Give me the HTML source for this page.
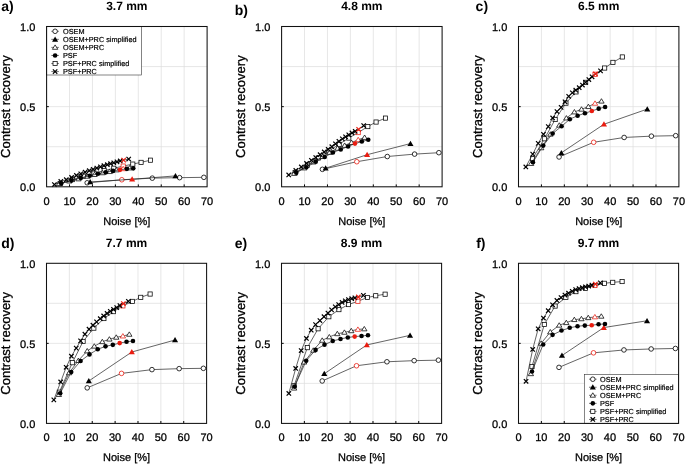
<!DOCTYPE html>
<html><head><meta charset="utf-8"><style>
html,body{margin:0;padding:0;background:#fff;}
svg{display:block;font-family:"Liberation Sans",sans-serif;will-change:transform;text-rendering:geometricPrecision;}
.r{fill:#000;stroke:#000;stroke-width:0.28px;stroke-linejoin:round;}
.l{stroke-width:0.2px;}
</style></head><body>
<svg width="685" height="465" viewBox="0 0 685 465">
<rect width="685" height="465" fill="#fff"/>
<path d="M69.53,26.50V186.80M92.46,26.50V186.80M115.39,26.50V186.80M138.31,26.50V186.80M161.24,26.50V186.80M184.17,26.50V186.80M46.60,146.73H207.10M46.60,106.65H207.10M46.60,66.58H207.10" stroke="#dcdcdc" stroke-width="0.7" fill="none"/>
<path d="M69.53,186.80V184.40M92.46,186.80V184.40M115.39,186.80V184.40M138.31,186.80V184.40M161.24,186.80V184.40M184.17,186.80V184.40M46.60,106.65H48.80" stroke="#000" stroke-width="1.0" fill="none"/>
<path d="M87.18,182.79L121.81,179.75L152.30,178.14L179.59,177.66L203.89,177.34" stroke="#222" stroke-width="0.7" fill="none"/>
<circle cx="87.18" cy="182.79" r="2.3" fill="#fff" stroke="#000" stroke-width="0.8"/>
<circle cx="121.81" cy="179.75" r="2.3" fill="#fff" stroke="#ea1c10" stroke-width="0.8"/>
<circle cx="152.30" cy="178.14" r="2.3" fill="#fff" stroke="#000" stroke-width="0.8"/>
<circle cx="179.59" cy="177.66" r="2.3" fill="#fff" stroke="#000" stroke-width="0.8"/>
<circle cx="203.89" cy="177.34" r="2.3" fill="#fff" stroke="#000" stroke-width="0.8"/>
<path d="M90.16,181.99L132.12,179.27L175.46,175.90" stroke="#222" stroke-width="0.7" fill="none"/>
<polygon points="90.16,179.09 93.21,184.34 87.11,184.34" fill="#000"/>
<polygon points="132.12,176.37 135.17,181.62 129.07,181.62" fill="#ea1c10"/>
<polygon points="175.46,173.00 178.51,178.25 172.41,178.25" fill="#000"/>
<path d="M60.13,183.59L72.51,179.59L83.29,176.22L94.06,173.17L104.15,170.61L113.78,168.27L123.18,166.07L132.81,164.10L141.07,162.37L150.47,160.18" stroke="#222" stroke-width="0.7" fill="none"/>
<rect x="58.03" y="181.49" width="4.2" height="4.2" fill="#fff" stroke="#000" stroke-width="0.75"/>
<rect x="70.41" y="177.49" width="4.2" height="4.2" fill="#fff" stroke="#000" stroke-width="0.75"/>
<rect x="81.19" y="174.12" width="4.2" height="4.2" fill="#fff" stroke="#000" stroke-width="0.75"/>
<rect x="91.96" y="171.07" width="4.2" height="4.2" fill="#fff" stroke="#000" stroke-width="0.75"/>
<rect x="102.05" y="168.51" width="4.2" height="4.2" fill="#fff" stroke="#000" stroke-width="0.75"/>
<rect x="111.68" y="166.17" width="4.2" height="4.2" fill="#fff" stroke="#000" stroke-width="0.75"/>
<rect x="121.08" y="163.97" width="4.2" height="4.2" fill="#fff" stroke="#ea1c10" stroke-width="0.75"/>
<rect x="130.71" y="162.00" width="4.2" height="4.2" fill="#fff" stroke="#000" stroke-width="0.75"/>
<rect x="138.97" y="160.27" width="4.2" height="4.2" fill="#fff" stroke="#000" stroke-width="0.75"/>
<rect x="148.37" y="158.08" width="4.2" height="4.2" fill="#fff" stroke="#000" stroke-width="0.75"/>
<path d="M58.98,183.75L69.30,181.09L78.47,178.95L87.41,176.32L94.52,174.61L102.55,172.85L109.65,171.66L116.53,169.97L123.18,168.78L129.60,168.02" stroke="#222" stroke-width="0.7" fill="none"/>
<polygon points="58.98,181.25 61.68,185.65 56.28,185.65" fill="#fff" stroke="#000" stroke-width="0.75" stroke-linejoin="miter"/>
<polygon points="69.30,178.59 72.00,182.99 66.60,182.99" fill="#fff" stroke="#000" stroke-width="0.75" stroke-linejoin="miter"/>
<polygon points="78.47,176.45 81.17,180.85 75.77,180.85" fill="#fff" stroke="#000" stroke-width="0.75" stroke-linejoin="miter"/>
<polygon points="87.41,173.82 90.11,178.22 84.71,178.22" fill="#fff" stroke="#000" stroke-width="0.75" stroke-linejoin="miter"/>
<polygon points="94.52,172.11 97.22,176.51 91.82,176.51" fill="#fff" stroke="#000" stroke-width="0.75" stroke-linejoin="miter"/>
<polygon points="102.55,170.35 105.25,174.75 99.85,174.75" fill="#fff" stroke="#000" stroke-width="0.75" stroke-linejoin="miter"/>
<polygon points="109.65,169.16 112.35,173.56 106.95,173.56" fill="#fff" stroke="#000" stroke-width="0.75" stroke-linejoin="miter"/>
<polygon points="116.53,167.47 119.23,171.87 113.83,171.87" fill="#fff" stroke="#000" stroke-width="0.75" stroke-linejoin="miter"/>
<polygon points="123.18,166.28 125.88,170.68 120.48,170.68" fill="#fff" stroke="#ea1c10" stroke-width="0.75" stroke-linejoin="miter"/>
<polygon points="129.60,165.52 132.30,169.92 126.90,169.92" fill="#fff" stroke="#000" stroke-width="0.75" stroke-linejoin="miter"/>
<path d="M61.27,183.43L71.36,180.61L80.76,177.88L89.71,175.79L97.96,173.82L105.76,172.33L113.09,170.89L119.97,169.84L126.85,168.87L133.27,168.37" stroke="#222" stroke-width="0.7" fill="none"/>
<circle cx="61.27" cy="183.43" r="2.3" fill="#000"/>
<circle cx="71.36" cy="180.61" r="2.3" fill="#000"/>
<circle cx="80.76" cy="177.88" r="2.3" fill="#000"/>
<circle cx="89.71" cy="175.79" r="2.3" fill="#000"/>
<circle cx="97.96" cy="173.82" r="2.3" fill="#000"/>
<circle cx="105.76" cy="172.33" r="2.3" fill="#000"/>
<circle cx="113.09" cy="170.89" r="2.3" fill="#000"/>
<circle cx="119.97" cy="169.84" r="2.3" fill="#ea1c10"/>
<circle cx="126.85" cy="168.87" r="2.3" fill="#000"/>
<circle cx="133.27" cy="168.37" r="2.3" fill="#000"/>
<path d="M54.40,184.56L60.82,181.49L66.32,179.66L71.59,177.47L76.41,175.47L80.76,173.80L85.12,172.20L89.25,170.72L93.15,169.33L96.81,168.06L100.48,166.83L103.92,165.73L107.36,164.67L110.57,163.69L113.78,162.75L116.99,161.84L120.20,160.99L123.64,160.14L128.68,159.06" stroke="#222" stroke-width="0.7" fill="none"/>
<path d="M52.20,182.36L56.60,186.76M52.20,186.76L56.60,182.36" stroke="#000" stroke-width="1.2" fill="none"/>
<path d="M58.62,179.29L63.02,183.69M58.62,183.69L63.02,179.29" stroke="#000" stroke-width="1.2" fill="none"/>
<path d="M64.12,177.46L68.52,181.86M64.12,181.86L68.52,177.46" stroke="#000" stroke-width="1.2" fill="none"/>
<path d="M69.39,175.27L73.79,179.67M69.39,179.67L73.79,175.27" stroke="#000" stroke-width="1.2" fill="none"/>
<path d="M74.21,173.27L78.61,177.67M74.21,177.67L78.61,173.27" stroke="#000" stroke-width="1.2" fill="none"/>
<path d="M78.56,171.60L82.96,176.00M78.56,176.00L82.96,171.60" stroke="#000" stroke-width="1.2" fill="none"/>
<path d="M82.92,170.00L87.32,174.40M82.92,174.40L87.32,170.00" stroke="#000" stroke-width="1.2" fill="none"/>
<path d="M87.05,168.52L91.45,172.92M87.05,172.92L91.45,168.52" stroke="#000" stroke-width="1.2" fill="none"/>
<path d="M90.95,167.13L95.35,171.53M90.95,171.53L95.35,167.13" stroke="#000" stroke-width="1.2" fill="none"/>
<path d="M94.61,165.86L99.01,170.26M94.61,170.26L99.01,165.86" stroke="#000" stroke-width="1.2" fill="none"/>
<path d="M98.28,164.63L102.68,169.03M98.28,169.03L102.68,164.63" stroke="#000" stroke-width="1.2" fill="none"/>
<path d="M101.72,163.53L106.12,167.93M101.72,167.93L106.12,163.53" stroke="#000" stroke-width="1.2" fill="none"/>
<path d="M105.16,162.47L109.56,166.87M105.16,166.87L109.56,162.47" stroke="#000" stroke-width="1.2" fill="none"/>
<path d="M108.37,161.49L112.77,165.89M108.37,165.89L112.77,161.49" stroke="#000" stroke-width="1.2" fill="none"/>
<path d="M111.58,160.55L115.98,164.95M111.58,164.95L115.98,160.55" stroke="#000" stroke-width="1.2" fill="none"/>
<path d="M114.79,159.64L119.19,164.04M114.79,164.04L119.19,159.64" stroke="#000" stroke-width="1.2" fill="none"/>
<path d="M118.00,158.79L122.40,163.19M118.00,163.19L122.40,158.79" stroke="#000" stroke-width="1.2" fill="none"/>
<path d="M121.44,157.94L125.84,162.34M121.44,162.34L125.84,157.94" stroke="#ea1c10" stroke-width="1.2" fill="none"/>
<path d="M126.48,156.86L130.88,161.26M126.48,161.26L130.88,156.86" stroke="#000" stroke-width="1.2" fill="none"/>
<rect x="46.60" y="26.50" width="95.00" height="48.50" fill="#fff" stroke="#333" stroke-width="0.6"/>
<path d="M51.30,31.30H58.90" stroke="#1a1a1a" stroke-width="0.6"/>
<circle cx="55.10" cy="31.30" r="2.3" fill="#fff" stroke="#000" stroke-width="0.8"/>
<text x="63.00" y="33.80" font-size="7.3" class="r l">OSEM</text>
<path d="M51.30,39.35H58.90" stroke="#1a1a1a" stroke-width="0.6"/>
<polygon points="55.10,36.45 58.15,41.70 52.05,41.70" fill="#000"/>
<text x="63.00" y="41.85" font-size="7.3" class="r l">OSEM+PRC simplified</text>
<path d="M51.30,47.40H58.90" stroke="#1a1a1a" stroke-width="0.6"/>
<polygon points="55.10,44.90 57.80,49.30 52.40,49.30" fill="#fff" stroke="#000" stroke-width="0.75" stroke-linejoin="miter"/>
<text x="63.00" y="49.90" font-size="7.3" class="r l">OSEM+PRC</text>
<path d="M51.30,55.45H58.90" stroke="#1a1a1a" stroke-width="0.6"/>
<circle cx="55.10" cy="55.45" r="2.3" fill="#000"/>
<text x="63.00" y="57.95" font-size="7.3" class="r l">PSF</text>
<path d="M51.30,63.50H58.90" stroke="#1a1a1a" stroke-width="0.6"/>
<rect x="53.00" y="61.40" width="4.2" height="4.2" fill="#fff" stroke="#000" stroke-width="0.75"/>
<text x="63.00" y="66.00" font-size="7.3" class="r l">PSF+PRC simplified</text>
<path d="M51.30,71.55H58.90" stroke="#1a1a1a" stroke-width="0.6"/>
<path d="M52.90,69.35L57.30,73.75M52.90,73.75L57.30,69.35" stroke="#000" stroke-width="1.2" fill="none"/>
<text x="63.00" y="74.05" font-size="7.3" class="r l">PSF+PRC</text>
<rect x="46.60" y="26.50" width="160.50" height="160.30" fill="none" stroke="#111" stroke-width="1.05"/>
<text x="35.40" y="31.00" font-size="11" text-anchor="end" class="r">1.0</text>
<text x="35.40" y="111.15" font-size="11" text-anchor="end" class="r">0.5</text>
<text x="35.40" y="191.30" font-size="11" text-anchor="end" class="r">0.0</text>
<text x="46.60" y="204.80" font-size="11" text-anchor="middle" class="r">0</text>
<text x="69.53" y="204.80" font-size="11" text-anchor="middle" class="r">10</text>
<text x="92.46" y="204.80" font-size="11" text-anchor="middle" class="r">20</text>
<text x="115.39" y="204.80" font-size="11" text-anchor="middle" class="r">30</text>
<text x="138.31" y="204.80" font-size="11" text-anchor="middle" class="r">40</text>
<text x="161.24" y="204.80" font-size="11" text-anchor="middle" class="r">50</text>
<text x="184.17" y="204.80" font-size="11" text-anchor="middle" class="r">60</text>
<text x="207.10" y="204.80" font-size="11" text-anchor="middle" class="r">70</text>
<text x="126.85" y="224.80" font-size="11" text-anchor="middle" class="r">Noise [%]</text>
<text transform="translate(10.30,106.65) rotate(-90)" font-size="13" text-anchor="middle" class="r">Contrast recovery</text>
<text x="126.85" y="10.10" font-size="12" font-weight="bold" text-anchor="middle" fill="#000">3.7 mm</text>
<text x="1.30" y="11.30" font-size="14" font-weight="bold" fill="#000">a)</text>
<path d="M304.53,26.50V186.80M327.46,26.50V186.80M350.39,26.50V186.80M373.31,26.50V186.80M396.24,26.50V186.80M419.17,26.50V186.80M281.60,146.73H442.10M281.60,106.65H442.10M281.60,66.58H442.10" stroke="#dcdcdc" stroke-width="0.7" fill="none"/>
<path d="M304.53,186.80V184.40M327.46,186.80V184.40M350.39,186.80V184.40M373.31,186.80V184.40M396.24,186.80V184.40M419.17,186.80V184.40M281.60,106.65H283.80" stroke="#000" stroke-width="1.0" fill="none"/>
<path d="M322.41,169.33L356.81,161.72L387.30,156.53L414.59,154.11L438.89,152.69" stroke="#222" stroke-width="0.7" fill="none"/>
<circle cx="322.41" cy="169.33" r="2.3" fill="#fff" stroke="#000" stroke-width="0.8"/>
<circle cx="356.81" cy="161.72" r="2.3" fill="#fff" stroke="#ea1c10" stroke-width="0.8"/>
<circle cx="387.30" cy="156.53" r="2.3" fill="#fff" stroke="#000" stroke-width="0.8"/>
<circle cx="414.59" cy="154.11" r="2.3" fill="#fff" stroke="#000" stroke-width="0.8"/>
<circle cx="438.89" cy="152.69" r="2.3" fill="#fff" stroke="#000" stroke-width="0.8"/>
<path d="M325.62,168.21L367.12,154.71L410.46,143.57" stroke="#222" stroke-width="0.7" fill="none"/>
<polygon points="325.62,165.31 328.67,170.56 322.57,170.56" fill="#000"/>
<polygon points="367.12,151.81 370.17,157.06 364.07,157.06" fill="#ea1c10"/>
<polygon points="410.46,140.67 413.51,145.92 407.41,145.92" fill="#000"/>
<path d="M295.13,172.69L307.51,165.16L318.29,157.95L329.06,150.89L339.15,144.32L348.78,138.05L358.18,132.60L367.81,126.58L376.07,122.04L385.47,118.11" stroke="#222" stroke-width="0.7" fill="none"/>
<rect x="293.03" y="170.59" width="4.2" height="4.2" fill="#fff" stroke="#000" stroke-width="0.75"/>
<rect x="305.41" y="163.06" width="4.2" height="4.2" fill="#fff" stroke="#000" stroke-width="0.75"/>
<rect x="316.19" y="155.85" width="4.2" height="4.2" fill="#fff" stroke="#000" stroke-width="0.75"/>
<rect x="326.96" y="148.79" width="4.2" height="4.2" fill="#fff" stroke="#000" stroke-width="0.75"/>
<rect x="337.05" y="142.22" width="4.2" height="4.2" fill="#fff" stroke="#000" stroke-width="0.75"/>
<rect x="346.68" y="135.95" width="4.2" height="4.2" fill="#fff" stroke="#000" stroke-width="0.75"/>
<rect x="356.08" y="130.50" width="4.2" height="4.2" fill="#fff" stroke="#ea1c10" stroke-width="0.75"/>
<rect x="365.71" y="124.48" width="4.2" height="4.2" fill="#fff" stroke="#000" stroke-width="0.75"/>
<rect x="373.97" y="119.94" width="4.2" height="4.2" fill="#fff" stroke="#000" stroke-width="0.75"/>
<rect x="383.37" y="116.01" width="4.2" height="4.2" fill="#fff" stroke="#000" stroke-width="0.75"/>
<path d="M294.21,173.50L304.30,168.02L313.47,162.10L322.41,156.66L329.52,152.46L337.55,148.33L344.65,145.44L351.53,142.56L358.18,139.76L364.60,137.50" stroke="#222" stroke-width="0.7" fill="none"/>
<polygon points="294.21,171.00 296.91,175.40 291.51,175.40" fill="#fff" stroke="#000" stroke-width="0.75" stroke-linejoin="miter"/>
<polygon points="304.30,165.52 307.00,169.92 301.60,169.92" fill="#fff" stroke="#000" stroke-width="0.75" stroke-linejoin="miter"/>
<polygon points="313.47,159.60 316.17,164.00 310.77,164.00" fill="#fff" stroke="#000" stroke-width="0.75" stroke-linejoin="miter"/>
<polygon points="322.41,154.16 325.11,158.56 319.71,158.56" fill="#fff" stroke="#000" stroke-width="0.75" stroke-linejoin="miter"/>
<polygon points="329.52,149.96 332.22,154.36 326.82,154.36" fill="#fff" stroke="#000" stroke-width="0.75" stroke-linejoin="miter"/>
<polygon points="337.55,145.83 340.25,150.23 334.85,150.23" fill="#fff" stroke="#000" stroke-width="0.75" stroke-linejoin="miter"/>
<polygon points="344.65,142.94 347.35,147.34 341.95,147.34" fill="#fff" stroke="#000" stroke-width="0.75" stroke-linejoin="miter"/>
<polygon points="351.53,140.06 354.23,144.46 348.83,144.46" fill="#fff" stroke="#000" stroke-width="0.75" stroke-linejoin="miter"/>
<polygon points="358.18,137.26 360.88,141.66 355.48,141.66" fill="#fff" stroke="#ea1c10" stroke-width="0.75" stroke-linejoin="miter"/>
<polygon points="364.60,135.00 367.30,139.40 361.90,139.40" fill="#fff" stroke="#000" stroke-width="0.75" stroke-linejoin="miter"/>
<path d="M296.27,172.69L306.36,167.27L315.76,161.73L324.71,156.95L332.96,152.44L340.76,149.45L348.09,146.50L354.97,143.60L361.85,141.57L368.27,139.74" stroke="#222" stroke-width="0.7" fill="none"/>
<circle cx="296.27" cy="172.69" r="2.3" fill="#000"/>
<circle cx="306.36" cy="167.27" r="2.3" fill="#000"/>
<circle cx="315.76" cy="161.73" r="2.3" fill="#000"/>
<circle cx="324.71" cy="156.95" r="2.3" fill="#000"/>
<circle cx="332.96" cy="152.44" r="2.3" fill="#000"/>
<circle cx="340.76" cy="149.45" r="2.3" fill="#000"/>
<circle cx="348.09" cy="146.50" r="2.3" fill="#000"/>
<circle cx="354.97" cy="143.60" r="2.3" fill="#ea1c10"/>
<circle cx="361.85" cy="141.57" r="2.3" fill="#000"/>
<circle cx="368.27" cy="139.74" r="2.3" fill="#000"/>
<path d="M288.71,174.94L295.82,170.44L301.32,166.91L306.59,163.47L311.41,160.32L315.76,157.51L320.12,154.69L324.25,151.95L328.15,149.30L331.81,146.67L335.48,143.84L338.92,141.28L342.36,138.90L345.57,136.78L348.78,134.77L351.99,132.94L355.20,131.30L358.64,129.37L363.68,125.59" stroke="#222" stroke-width="0.7" fill="none"/>
<path d="M286.51,172.74L290.91,177.14M286.51,177.14L290.91,172.74" stroke="#000" stroke-width="1.2" fill="none"/>
<path d="M293.62,168.24L298.02,172.64M293.62,172.64L298.02,168.24" stroke="#000" stroke-width="1.2" fill="none"/>
<path d="M299.12,164.71L303.52,169.11M299.12,169.11L303.52,164.71" stroke="#000" stroke-width="1.2" fill="none"/>
<path d="M304.39,161.27L308.79,165.67M304.39,165.67L308.79,161.27" stroke="#000" stroke-width="1.2" fill="none"/>
<path d="M309.21,158.12L313.61,162.52M309.21,162.52L313.61,158.12" stroke="#000" stroke-width="1.2" fill="none"/>
<path d="M313.56,155.31L317.96,159.71M313.56,159.71L317.96,155.31" stroke="#000" stroke-width="1.2" fill="none"/>
<path d="M317.92,152.49L322.32,156.89M317.92,156.89L322.32,152.49" stroke="#000" stroke-width="1.2" fill="none"/>
<path d="M322.05,149.75L326.45,154.15M322.05,154.15L326.45,149.75" stroke="#000" stroke-width="1.2" fill="none"/>
<path d="M325.95,147.10L330.35,151.50M325.95,151.50L330.35,147.10" stroke="#000" stroke-width="1.2" fill="none"/>
<path d="M329.61,144.47L334.01,148.87M329.61,148.87L334.01,144.47" stroke="#000" stroke-width="1.2" fill="none"/>
<path d="M333.28,141.64L337.68,146.04M333.28,146.04L337.68,141.64" stroke="#000" stroke-width="1.2" fill="none"/>
<path d="M336.72,139.08L341.12,143.48M336.72,143.48L341.12,139.08" stroke="#000" stroke-width="1.2" fill="none"/>
<path d="M340.16,136.70L344.56,141.10M340.16,141.10L344.56,136.70" stroke="#000" stroke-width="1.2" fill="none"/>
<path d="M343.37,134.58L347.77,138.98M343.37,138.98L347.77,134.58" stroke="#000" stroke-width="1.2" fill="none"/>
<path d="M346.58,132.57L350.98,136.97M346.58,136.97L350.98,132.57" stroke="#000" stroke-width="1.2" fill="none"/>
<path d="M349.79,130.74L354.19,135.14M349.79,135.14L354.19,130.74" stroke="#000" stroke-width="1.2" fill="none"/>
<path d="M353.00,129.10L357.40,133.50M353.00,133.50L357.40,129.10" stroke="#000" stroke-width="1.2" fill="none"/>
<path d="M356.44,127.17L360.84,131.57M356.44,131.57L360.84,127.17" stroke="#ea1c10" stroke-width="1.2" fill="none"/>
<path d="M361.48,123.39L365.88,127.79M361.48,127.79L365.88,123.39" stroke="#000" stroke-width="1.2" fill="none"/>
<rect x="281.60" y="26.50" width="160.50" height="160.30" fill="none" stroke="#111" stroke-width="1.05"/>
<text x="270.40" y="31.00" font-size="11" text-anchor="end" class="r">1.0</text>
<text x="270.40" y="111.15" font-size="11" text-anchor="end" class="r">0.5</text>
<text x="270.40" y="191.30" font-size="11" text-anchor="end" class="r">0.0</text>
<text x="281.60" y="204.80" font-size="11" text-anchor="middle" class="r">0</text>
<text x="304.53" y="204.80" font-size="11" text-anchor="middle" class="r">10</text>
<text x="327.46" y="204.80" font-size="11" text-anchor="middle" class="r">20</text>
<text x="350.39" y="204.80" font-size="11" text-anchor="middle" class="r">30</text>
<text x="373.31" y="204.80" font-size="11" text-anchor="middle" class="r">40</text>
<text x="396.24" y="204.80" font-size="11" text-anchor="middle" class="r">50</text>
<text x="419.17" y="204.80" font-size="11" text-anchor="middle" class="r">60</text>
<text x="442.10" y="204.80" font-size="11" text-anchor="middle" class="r">70</text>
<text x="361.85" y="224.80" font-size="11" text-anchor="middle" class="r">Noise [%]</text>
<text transform="translate(245.30,106.65) rotate(-90)" font-size="13" text-anchor="middle" class="r">Contrast recovery</text>
<text x="361.85" y="10.10" font-size="12" font-weight="bold" text-anchor="middle" fill="#000">4.8 mm</text>
<text x="234.80" y="14.50" font-size="14" font-weight="bold" fill="#000">b)</text>
<path d="M541.41,26.50V186.80M564.33,26.50V186.80M587.24,26.50V186.80M610.16,26.50V186.80M633.07,26.50V186.80M655.99,26.50V186.80M518.50,146.73H678.90M518.50,106.65H678.90M518.50,66.58H678.90" stroke="#dcdcdc" stroke-width="0.7" fill="none"/>
<path d="M541.41,186.80V184.40M564.33,186.80V184.40M587.24,186.80V184.40M610.16,186.80V184.40M633.07,186.80V184.40M655.99,186.80V184.40M518.50,106.65H520.70" stroke="#000" stroke-width="1.0" fill="none"/>
<path d="M559.06,156.98L593.66,142.29L624.13,137.46L651.40,136.15L675.69,135.67" stroke="#222" stroke-width="0.7" fill="none"/>
<circle cx="559.06" cy="156.98" r="2.3" fill="#fff" stroke="#000" stroke-width="0.8"/>
<circle cx="593.66" cy="142.29" r="2.3" fill="#fff" stroke="#ea1c10" stroke-width="0.8"/>
<circle cx="624.13" cy="137.46" r="2.3" fill="#fff" stroke="#000" stroke-width="0.8"/>
<circle cx="651.40" cy="136.15" r="2.3" fill="#fff" stroke="#000" stroke-width="0.8"/>
<circle cx="675.69" cy="135.67" r="2.3" fill="#fff" stroke="#000" stroke-width="0.8"/>
<path d="M561.35,152.82L603.97,124.23L647.28,109.10" stroke="#222" stroke-width="0.7" fill="none"/>
<polygon points="561.35,149.92 564.40,155.17 558.30,155.17" fill="#000"/>
<polygon points="603.97,121.33 607.02,126.58 600.92,126.58" fill="#ea1c10"/>
<polygon points="647.28,106.20 650.33,111.45 644.23,111.45" fill="#000"/>
<path d="M532.48,158.75L544.39,138.79L555.16,119.53L565.93,103.15L576.01,91.90L585.64,82.34L595.03,74.26L604.66,68.04L612.91,62.38L622.30,56.96" stroke="#222" stroke-width="0.7" fill="none"/>
<rect x="530.38" y="156.65" width="4.2" height="4.2" fill="#fff" stroke="#000" stroke-width="0.75"/>
<rect x="542.29" y="136.69" width="4.2" height="4.2" fill="#fff" stroke="#000" stroke-width="0.75"/>
<rect x="553.06" y="117.43" width="4.2" height="4.2" fill="#fff" stroke="#000" stroke-width="0.75"/>
<rect x="563.83" y="101.05" width="4.2" height="4.2" fill="#fff" stroke="#000" stroke-width="0.75"/>
<rect x="573.91" y="89.80" width="4.2" height="4.2" fill="#fff" stroke="#000" stroke-width="0.75"/>
<rect x="583.54" y="80.24" width="4.2" height="4.2" fill="#fff" stroke="#000" stroke-width="0.75"/>
<rect x="592.93" y="72.16" width="4.2" height="4.2" fill="#fff" stroke="#ea1c10" stroke-width="0.75"/>
<rect x="602.56" y="65.94" width="4.2" height="4.2" fill="#fff" stroke="#000" stroke-width="0.75"/>
<rect x="610.81" y="60.28" width="4.2" height="4.2" fill="#fff" stroke="#000" stroke-width="0.75"/>
<rect x="620.20" y="54.86" width="4.2" height="4.2" fill="#fff" stroke="#000" stroke-width="0.75"/>
<path d="M531.10,163.56L541.19,147.88L550.35,134.27L559.29,125.27L566.39,118.08L574.41,112.01L581.51,109.27L588.39,106.65L595.03,103.35L601.45,101.20" stroke="#222" stroke-width="0.7" fill="none"/>
<polygon points="531.10,161.06 533.80,165.46 528.40,165.46" fill="#fff" stroke="#000" stroke-width="0.75" stroke-linejoin="miter"/>
<polygon points="541.19,145.38 543.89,149.78 538.49,149.78" fill="#fff" stroke="#000" stroke-width="0.75" stroke-linejoin="miter"/>
<polygon points="550.35,131.77 553.05,136.17 547.65,136.17" fill="#fff" stroke="#000" stroke-width="0.75" stroke-linejoin="miter"/>
<polygon points="559.29,122.77 561.99,127.17 556.59,127.17" fill="#fff" stroke="#000" stroke-width="0.75" stroke-linejoin="miter"/>
<polygon points="566.39,115.58 569.09,119.98 563.69,119.98" fill="#fff" stroke="#000" stroke-width="0.75" stroke-linejoin="miter"/>
<polygon points="574.41,109.51 577.11,113.91 571.71,113.91" fill="#fff" stroke="#000" stroke-width="0.75" stroke-linejoin="miter"/>
<polygon points="581.51,106.77 584.21,111.17 578.81,111.17" fill="#fff" stroke="#000" stroke-width="0.75" stroke-linejoin="miter"/>
<polygon points="588.39,104.15 591.09,108.55 585.69,108.55" fill="#fff" stroke="#000" stroke-width="0.75" stroke-linejoin="miter"/>
<polygon points="595.03,100.85 597.73,105.25 592.33,105.25" fill="#fff" stroke="#ea1c10" stroke-width="0.75" stroke-linejoin="miter"/>
<polygon points="601.45,98.70 604.15,103.10 598.75,103.10" fill="#fff" stroke="#000" stroke-width="0.75" stroke-linejoin="miter"/>
<path d="M532.94,162.27L543.25,145.59L552.64,133.51L561.58,126.27L569.83,119.18L577.62,115.70L584.95,113.22L591.83,110.98L598.70,108.67L605.12,107.02" stroke="#222" stroke-width="0.7" fill="none"/>
<circle cx="532.94" cy="162.27" r="2.3" fill="#000"/>
<circle cx="543.25" cy="145.59" r="2.3" fill="#000"/>
<circle cx="552.64" cy="133.51" r="2.3" fill="#000"/>
<circle cx="561.58" cy="126.27" r="2.3" fill="#000"/>
<circle cx="569.83" cy="119.18" r="2.3" fill="#000"/>
<circle cx="577.62" cy="115.70" r="2.3" fill="#000"/>
<circle cx="584.95" cy="113.22" r="2.3" fill="#000"/>
<circle cx="591.83" cy="110.98" r="2.3" fill="#ea1c10"/>
<circle cx="598.70" cy="108.67" r="2.3" fill="#000"/>
<circle cx="605.12" cy="107.02" r="2.3" fill="#000"/>
<path d="M525.83,166.92L532.71,154.14L538.21,143.36L543.48,134.28L548.29,126.61L552.64,117.96L557.00,111.51L561.12,107.39L565.02,101.79L568.68,96.32L572.35,92.75L575.79,90.16L579.22,87.66L582.43,85.03L585.64,82.32L588.85,79.57L592.05,76.77L595.49,73.95L600.53,70.90" stroke="#222" stroke-width="0.7" fill="none"/>
<path d="M523.63,164.72L528.03,169.12M523.63,169.12L528.03,164.72" stroke="#000" stroke-width="1.2" fill="none"/>
<path d="M530.51,151.94L534.91,156.34M530.51,156.34L534.91,151.94" stroke="#000" stroke-width="1.2" fill="none"/>
<path d="M536.01,141.16L540.41,145.56M536.01,145.56L540.41,141.16" stroke="#000" stroke-width="1.2" fill="none"/>
<path d="M541.28,132.08L545.68,136.48M541.28,136.48L545.68,132.08" stroke="#000" stroke-width="1.2" fill="none"/>
<path d="M546.09,124.41L550.49,128.81M546.09,128.81L550.49,124.41" stroke="#000" stroke-width="1.2" fill="none"/>
<path d="M550.44,115.76L554.84,120.16M550.44,120.16L554.84,115.76" stroke="#000" stroke-width="1.2" fill="none"/>
<path d="M554.80,109.31L559.20,113.71M554.80,113.71L559.20,109.31" stroke="#000" stroke-width="1.2" fill="none"/>
<path d="M558.92,105.19L563.32,109.59M558.92,109.59L563.32,105.19" stroke="#000" stroke-width="1.2" fill="none"/>
<path d="M562.82,99.59L567.22,103.99M562.82,103.99L567.22,99.59" stroke="#000" stroke-width="1.2" fill="none"/>
<path d="M566.48,94.12L570.88,98.52M566.48,98.52L570.88,94.12" stroke="#000" stroke-width="1.2" fill="none"/>
<path d="M570.15,90.55L574.55,94.95M570.15,94.95L574.55,90.55" stroke="#000" stroke-width="1.2" fill="none"/>
<path d="M573.59,87.96L577.99,92.36M573.59,92.36L577.99,87.96" stroke="#000" stroke-width="1.2" fill="none"/>
<path d="M577.02,85.46L581.42,89.86M577.02,89.86L581.42,85.46" stroke="#000" stroke-width="1.2" fill="none"/>
<path d="M580.23,82.83L584.63,87.23M580.23,87.23L584.63,82.83" stroke="#000" stroke-width="1.2" fill="none"/>
<path d="M583.44,80.12L587.84,84.52M583.44,84.52L587.84,80.12" stroke="#000" stroke-width="1.2" fill="none"/>
<path d="M586.65,77.37L591.05,81.77M586.65,81.77L591.05,77.37" stroke="#000" stroke-width="1.2" fill="none"/>
<path d="M589.85,74.57L594.25,78.97M589.85,78.97L594.25,74.57" stroke="#000" stroke-width="1.2" fill="none"/>
<path d="M593.29,71.75L597.69,76.15M593.29,76.15L597.69,71.75" stroke="#ea1c10" stroke-width="1.2" fill="none"/>
<path d="M598.33,68.70L602.73,73.10M598.33,73.10L602.73,68.70" stroke="#000" stroke-width="1.2" fill="none"/>
<rect x="518.50" y="26.50" width="160.40" height="160.30" fill="none" stroke="#111" stroke-width="1.05"/>
<text x="507.30" y="31.00" font-size="11" text-anchor="end" class="r">1.0</text>
<text x="507.30" y="111.15" font-size="11" text-anchor="end" class="r">0.5</text>
<text x="507.30" y="191.30" font-size="11" text-anchor="end" class="r">0.0</text>
<text x="518.50" y="204.80" font-size="11" text-anchor="middle" class="r">0</text>
<text x="541.41" y="204.80" font-size="11" text-anchor="middle" class="r">10</text>
<text x="564.33" y="204.80" font-size="11" text-anchor="middle" class="r">20</text>
<text x="587.24" y="204.80" font-size="11" text-anchor="middle" class="r">30</text>
<text x="610.16" y="204.80" font-size="11" text-anchor="middle" class="r">40</text>
<text x="633.07" y="204.80" font-size="11" text-anchor="middle" class="r">50</text>
<text x="655.99" y="204.80" font-size="11" text-anchor="middle" class="r">60</text>
<text x="678.90" y="204.80" font-size="11" text-anchor="middle" class="r">70</text>
<text x="598.70" y="224.80" font-size="11" text-anchor="middle" class="r">Noise [%]</text>
<text transform="translate(482.20,106.65) rotate(-90)" font-size="13" text-anchor="middle" class="r">Contrast recovery</text>
<text x="598.70" y="10.10" font-size="12" font-weight="bold" text-anchor="middle" fill="#000">6.5 mm</text>
<text x="475.60" y="11.40" font-size="14" font-weight="bold" fill="#000">c)</text>
<path d="M69.37,263.30V423.40M92.24,263.30V423.40M115.11,263.30V423.40M137.99,263.30V423.40M160.86,263.30V423.40M183.73,263.30V423.40M46.50,383.38H206.60M46.50,343.35H206.60M46.50,303.32H206.60" stroke="#dcdcdc" stroke-width="0.7" fill="none"/>
<path d="M69.37,423.40V421.00M92.24,423.40V421.00M115.11,423.40V421.00M137.99,423.40V421.00M160.86,423.40V421.00M183.73,423.40V421.00M46.50,343.35H48.70" stroke="#000" stroke-width="1.0" fill="none"/>
<path d="M87.21,387.86L121.52,373.38L151.94,369.63L179.15,368.65L203.40,368.33" stroke="#222" stroke-width="0.7" fill="none"/>
<circle cx="87.21" cy="387.86" r="2.3" fill="#fff" stroke="#000" stroke-width="0.8"/>
<circle cx="121.52" cy="373.38" r="2.3" fill="#fff" stroke="#ea1c10" stroke-width="0.8"/>
<circle cx="151.94" cy="369.63" r="2.3" fill="#fff" stroke="#000" stroke-width="0.8"/>
<circle cx="179.15" cy="368.65" r="2.3" fill="#fff" stroke="#000" stroke-width="0.8"/>
<circle cx="203.40" cy="368.33" r="2.3" fill="#fff" stroke="#000" stroke-width="0.8"/>
<path d="M88.81,380.97L131.81,352.01L175.04,340.02" stroke="#222" stroke-width="0.7" fill="none"/>
<polygon points="88.81,378.07 91.86,383.32 85.76,383.32" fill="#000"/>
<polygon points="131.81,349.11 134.86,354.36 128.76,354.36" fill="#ea1c10"/>
<polygon points="175.04,337.12 178.09,342.37 171.99,342.37" fill="#000"/>
<path d="M59.31,392.18L72.34,362.72L83.09,341.43L93.84,328.14L103.91,318.56L113.51,311.63L122.89,305.89L132.50,301.40L140.73,297.34L150.11,294.03" stroke="#222" stroke-width="0.7" fill="none"/>
<rect x="57.21" y="390.08" width="4.2" height="4.2" fill="#fff" stroke="#000" stroke-width="0.75"/>
<rect x="70.24" y="360.62" width="4.2" height="4.2" fill="#fff" stroke="#000" stroke-width="0.75"/>
<rect x="80.99" y="339.33" width="4.2" height="4.2" fill="#fff" stroke="#000" stroke-width="0.75"/>
<rect x="91.74" y="326.04" width="4.2" height="4.2" fill="#fff" stroke="#000" stroke-width="0.75"/>
<rect x="101.81" y="316.46" width="4.2" height="4.2" fill="#fff" stroke="#000" stroke-width="0.75"/>
<rect x="111.41" y="309.53" width="4.2" height="4.2" fill="#fff" stroke="#000" stroke-width="0.75"/>
<rect x="120.79" y="303.79" width="4.2" height="4.2" fill="#fff" stroke="#ea1c10" stroke-width="0.75"/>
<rect x="130.40" y="299.30" width="4.2" height="4.2" fill="#fff" stroke="#000" stroke-width="0.75"/>
<rect x="138.63" y="295.24" width="4.2" height="4.2" fill="#fff" stroke="#000" stroke-width="0.75"/>
<rect x="148.01" y="291.93" width="4.2" height="4.2" fill="#fff" stroke="#000" stroke-width="0.75"/>
<path d="M58.85,394.58L69.14,372.86L78.29,360.64L87.21,350.98L94.30,346.23L102.31,341.75L109.40,339.19L116.26,337.32L122.89,336.08L129.29,334.37" stroke="#222" stroke-width="0.7" fill="none"/>
<polygon points="58.85,392.08 61.55,396.48 56.15,396.48" fill="#fff" stroke="#000" stroke-width="0.75" stroke-linejoin="miter"/>
<polygon points="69.14,370.36 71.84,374.76 66.44,374.76" fill="#fff" stroke="#000" stroke-width="0.75" stroke-linejoin="miter"/>
<polygon points="78.29,358.14 80.99,362.54 75.59,362.54" fill="#fff" stroke="#000" stroke-width="0.75" stroke-linejoin="miter"/>
<polygon points="87.21,348.48 89.91,352.88 84.51,352.88" fill="#fff" stroke="#000" stroke-width="0.75" stroke-linejoin="miter"/>
<polygon points="94.30,343.73 97.00,348.13 91.60,348.13" fill="#fff" stroke="#000" stroke-width="0.75" stroke-linejoin="miter"/>
<polygon points="102.31,339.25 105.01,343.65 99.61,343.65" fill="#fff" stroke="#000" stroke-width="0.75" stroke-linejoin="miter"/>
<polygon points="109.40,336.69 112.10,341.09 106.70,341.09" fill="#fff" stroke="#000" stroke-width="0.75" stroke-linejoin="miter"/>
<polygon points="116.26,334.82 118.96,339.22 113.56,339.22" fill="#fff" stroke="#000" stroke-width="0.75" stroke-linejoin="miter"/>
<polygon points="122.89,333.58 125.59,337.98 120.19,337.98" fill="#fff" stroke="#ea1c10" stroke-width="0.75" stroke-linejoin="miter"/>
<polygon points="129.29,331.87 131.99,336.27 126.59,336.27" fill="#fff" stroke="#000" stroke-width="0.75" stroke-linejoin="miter"/>
<path d="M60.22,393.30L71.20,371.97L80.58,361.06L89.50,354.38L97.73,349.27L105.51,346.35L112.83,344.84L119.69,343.08L126.55,341.82L132.95,340.99" stroke="#222" stroke-width="0.7" fill="none"/>
<circle cx="60.22" cy="393.30" r="2.3" fill="#000"/>
<circle cx="71.20" cy="371.97" r="2.3" fill="#000"/>
<circle cx="80.58" cy="361.06" r="2.3" fill="#000"/>
<circle cx="89.50" cy="354.38" r="2.3" fill="#000"/>
<circle cx="97.73" cy="349.27" r="2.3" fill="#000"/>
<circle cx="105.51" cy="346.35" r="2.3" fill="#000"/>
<circle cx="112.83" cy="344.84" r="2.3" fill="#000"/>
<circle cx="119.69" cy="343.08" r="2.3" fill="#ea1c10"/>
<circle cx="126.55" cy="341.82" r="2.3" fill="#000"/>
<circle cx="132.95" cy="340.99" r="2.3" fill="#000"/>
<path d="M53.82,399.87L60.68,381.93L66.17,367.27L71.43,356.16L76.23,348.11L80.58,340.88L84.92,334.17L89.04,329.18L92.93,325.24L96.59,321.86L100.25,318.71L103.68,315.93L107.11,313.41L110.31,311.35L113.51,309.45L116.72,307.55L119.92,305.55L123.35,303.56L128.38,301.26" stroke="#222" stroke-width="0.7" fill="none"/>
<path d="M51.62,397.67L56.02,402.07M51.62,402.07L56.02,397.67" stroke="#000" stroke-width="1.2" fill="none"/>
<path d="M58.48,379.73L62.88,384.13M58.48,384.13L62.88,379.73" stroke="#000" stroke-width="1.2" fill="none"/>
<path d="M63.97,365.07L68.37,369.47M63.97,369.47L68.37,365.07" stroke="#000" stroke-width="1.2" fill="none"/>
<path d="M69.23,353.96L73.63,358.36M69.23,358.36L73.63,353.96" stroke="#000" stroke-width="1.2" fill="none"/>
<path d="M74.03,345.91L78.43,350.31M74.03,350.31L78.43,345.91" stroke="#000" stroke-width="1.2" fill="none"/>
<path d="M78.38,338.68L82.78,343.08M78.38,343.08L82.78,338.68" stroke="#000" stroke-width="1.2" fill="none"/>
<path d="M82.72,331.97L87.12,336.37M82.72,336.37L87.12,331.97" stroke="#000" stroke-width="1.2" fill="none"/>
<path d="M86.84,326.98L91.24,331.38M86.84,331.38L91.24,326.98" stroke="#000" stroke-width="1.2" fill="none"/>
<path d="M90.73,323.04L95.13,327.44M90.73,327.44L95.13,323.04" stroke="#000" stroke-width="1.2" fill="none"/>
<path d="M94.39,319.66L98.79,324.06M94.39,324.06L98.79,319.66" stroke="#000" stroke-width="1.2" fill="none"/>
<path d="M98.05,316.51L102.45,320.91M98.05,320.91L102.45,316.51" stroke="#000" stroke-width="1.2" fill="none"/>
<path d="M101.48,313.73L105.88,318.13M101.48,318.13L105.88,313.73" stroke="#000" stroke-width="1.2" fill="none"/>
<path d="M104.91,311.21L109.31,315.61M104.91,315.61L109.31,311.21" stroke="#000" stroke-width="1.2" fill="none"/>
<path d="M108.11,309.15L112.51,313.55M108.11,313.55L112.51,309.15" stroke="#000" stroke-width="1.2" fill="none"/>
<path d="M111.31,307.25L115.71,311.65M111.31,311.65L115.71,307.25" stroke="#000" stroke-width="1.2" fill="none"/>
<path d="M114.52,305.35L118.92,309.75M114.52,309.75L118.92,305.35" stroke="#000" stroke-width="1.2" fill="none"/>
<path d="M117.72,303.35L122.12,307.75M117.72,307.75L122.12,303.35" stroke="#000" stroke-width="1.2" fill="none"/>
<path d="M121.15,301.36L125.55,305.76M121.15,305.76L125.55,301.36" stroke="#ea1c10" stroke-width="1.2" fill="none"/>
<path d="M126.18,299.06L130.58,303.46M126.18,303.46L130.58,299.06" stroke="#000" stroke-width="1.2" fill="none"/>
<rect x="46.50" y="263.30" width="160.10" height="160.10" fill="none" stroke="#111" stroke-width="1.05"/>
<text x="35.30" y="267.80" font-size="11" text-anchor="end" class="r">1.0</text>
<text x="35.30" y="347.85" font-size="11" text-anchor="end" class="r">0.5</text>
<text x="35.30" y="427.90" font-size="11" text-anchor="end" class="r">0.0</text>
<text x="46.50" y="441.40" font-size="11" text-anchor="middle" class="r">0</text>
<text x="69.37" y="441.40" font-size="11" text-anchor="middle" class="r">10</text>
<text x="92.24" y="441.40" font-size="11" text-anchor="middle" class="r">20</text>
<text x="115.11" y="441.40" font-size="11" text-anchor="middle" class="r">30</text>
<text x="137.99" y="441.40" font-size="11" text-anchor="middle" class="r">40</text>
<text x="160.86" y="441.40" font-size="11" text-anchor="middle" class="r">50</text>
<text x="183.73" y="441.40" font-size="11" text-anchor="middle" class="r">60</text>
<text x="206.60" y="441.40" font-size="11" text-anchor="middle" class="r">70</text>
<text x="126.55" y="461.40" font-size="11" text-anchor="middle" class="r">Noise [%]</text>
<text transform="translate(10.20,343.35) rotate(-90)" font-size="13" text-anchor="middle" class="r">Contrast recovery</text>
<text x="126.55" y="246.90" font-size="12" font-weight="bold" text-anchor="middle" fill="#000">7.7 mm</text>
<text x="1.30" y="248.20" font-size="14" font-weight="bold" fill="#000">d)</text>
<path d="M304.37,263.30V423.40M327.24,263.30V423.40M350.11,263.30V423.40M372.99,263.30V423.40M395.86,263.30V423.40M418.73,263.30V423.40M281.50,383.38H441.60M281.50,343.35H441.60M281.50,303.32H441.60" stroke="#dcdcdc" stroke-width="0.7" fill="none"/>
<path d="M304.37,423.40V421.00M327.24,423.40V421.00M350.11,423.40V421.00M372.99,423.40V421.00M395.86,423.40V421.00M418.73,423.40V421.00M281.50,343.35H283.70" stroke="#000" stroke-width="1.0" fill="none"/>
<path d="M322.21,380.97L356.52,365.76L386.94,361.78L414.15,360.65L438.40,360.16" stroke="#222" stroke-width="0.7" fill="none"/>
<circle cx="322.21" cy="380.97" r="2.3" fill="#fff" stroke="#000" stroke-width="0.8"/>
<circle cx="356.52" cy="365.76" r="2.3" fill="#fff" stroke="#ea1c10" stroke-width="0.8"/>
<circle cx="386.94" cy="361.78" r="2.3" fill="#fff" stroke="#000" stroke-width="0.8"/>
<circle cx="414.15" cy="360.65" r="2.3" fill="#fff" stroke="#000" stroke-width="0.8"/>
<circle cx="438.40" cy="360.16" r="2.3" fill="#fff" stroke="#000" stroke-width="0.8"/>
<path d="M324.27,373.77L366.81,344.94L410.04,335.35" stroke="#222" stroke-width="0.7" fill="none"/>
<polygon points="324.27,370.87 327.32,376.12 321.22,376.12" fill="#000"/>
<polygon points="366.81,342.04 369.86,347.29 363.76,347.29" fill="#ea1c10"/>
<polygon points="410.04,332.45 413.09,337.70 406.99,337.70" fill="#000"/>
<path d="M294.08,385.78L307.34,347.66L318.09,328.77L328.84,316.74L338.91,309.63L348.51,304.57L357.89,301.23L367.50,297.47L375.73,295.76L385.11,294.19" stroke="#222" stroke-width="0.7" fill="none"/>
<rect x="291.98" y="383.68" width="4.2" height="4.2" fill="#fff" stroke="#000" stroke-width="0.75"/>
<rect x="305.24" y="345.56" width="4.2" height="4.2" fill="#fff" stroke="#000" stroke-width="0.75"/>
<rect x="315.99" y="326.67" width="4.2" height="4.2" fill="#fff" stroke="#000" stroke-width="0.75"/>
<rect x="326.74" y="314.64" width="4.2" height="4.2" fill="#fff" stroke="#000" stroke-width="0.75"/>
<rect x="336.81" y="307.53" width="4.2" height="4.2" fill="#fff" stroke="#000" stroke-width="0.75"/>
<rect x="346.41" y="302.47" width="4.2" height="4.2" fill="#fff" stroke="#000" stroke-width="0.75"/>
<rect x="355.79" y="299.13" width="4.2" height="4.2" fill="#fff" stroke="#ea1c10" stroke-width="0.75"/>
<rect x="365.40" y="295.37" width="4.2" height="4.2" fill="#fff" stroke="#000" stroke-width="0.75"/>
<rect x="373.63" y="293.66" width="4.2" height="4.2" fill="#fff" stroke="#000" stroke-width="0.75"/>
<rect x="383.01" y="292.09" width="4.2" height="4.2" fill="#fff" stroke="#000" stroke-width="0.75"/>
<path d="M294.08,388.18L304.14,362.16L313.29,350.31L322.21,340.34L329.30,336.95L337.31,333.78L344.40,332.36L351.26,330.81L357.89,329.42L364.29,328.94" stroke="#222" stroke-width="0.7" fill="none"/>
<polygon points="294.08,385.68 296.78,390.08 291.38,390.08" fill="#fff" stroke="#000" stroke-width="0.75" stroke-linejoin="miter"/>
<polygon points="304.14,359.66 306.84,364.06 301.44,364.06" fill="#fff" stroke="#000" stroke-width="0.75" stroke-linejoin="miter"/>
<polygon points="313.29,347.81 315.99,352.21 310.59,352.21" fill="#fff" stroke="#000" stroke-width="0.75" stroke-linejoin="miter"/>
<polygon points="322.21,337.84 324.91,342.24 319.51,342.24" fill="#fff" stroke="#000" stroke-width="0.75" stroke-linejoin="miter"/>
<polygon points="329.30,334.45 332.00,338.85 326.60,338.85" fill="#fff" stroke="#000" stroke-width="0.75" stroke-linejoin="miter"/>
<polygon points="337.31,331.28 340.01,335.68 334.61,335.68" fill="#fff" stroke="#000" stroke-width="0.75" stroke-linejoin="miter"/>
<polygon points="344.40,329.86 347.10,334.26 341.70,334.26" fill="#fff" stroke="#000" stroke-width="0.75" stroke-linejoin="miter"/>
<polygon points="351.26,328.31 353.96,332.71 348.56,332.71" fill="#fff" stroke="#000" stroke-width="0.75" stroke-linejoin="miter"/>
<polygon points="357.89,326.92 360.59,331.32 355.19,331.32" fill="#fff" stroke="#ea1c10" stroke-width="0.75" stroke-linejoin="miter"/>
<polygon points="364.29,326.44 366.99,330.84 361.59,330.84" fill="#fff" stroke="#000" stroke-width="0.75" stroke-linejoin="miter"/>
<path d="M294.54,386.58L306.20,360.71L315.58,349.90L324.50,344.67L332.73,340.95L340.51,338.97L347.83,337.43L354.69,336.60L361.55,335.99L367.95,335.32" stroke="#222" stroke-width="0.7" fill="none"/>
<circle cx="294.54" cy="386.58" r="2.3" fill="#000"/>
<circle cx="306.20" cy="360.71" r="2.3" fill="#000"/>
<circle cx="315.58" cy="349.90" r="2.3" fill="#000"/>
<circle cx="324.50" cy="344.67" r="2.3" fill="#000"/>
<circle cx="332.73" cy="340.95" r="2.3" fill="#000"/>
<circle cx="340.51" cy="338.97" r="2.3" fill="#000"/>
<circle cx="347.83" cy="337.43" r="2.3" fill="#000"/>
<circle cx="354.69" cy="336.60" r="2.3" fill="#ea1c10"/>
<circle cx="361.55" cy="335.99" r="2.3" fill="#000"/>
<circle cx="367.95" cy="335.32" r="2.3" fill="#000"/>
<path d="M288.82,393.46L295.68,368.49L301.17,350.57L306.43,338.45L311.23,330.19L315.58,324.64L319.92,320.52L324.04,316.68L327.93,313.05L331.59,309.87L335.25,306.87L338.68,304.51L342.11,302.46L345.31,300.85L348.51,299.64L351.72,298.72L354.92,297.86L358.35,296.99L363.38,295.35" stroke="#222" stroke-width="0.7" fill="none"/>
<path d="M286.62,391.26L291.02,395.66M286.62,395.66L291.02,391.26" stroke="#000" stroke-width="1.2" fill="none"/>
<path d="M293.48,366.29L297.88,370.69M293.48,370.69L297.88,366.29" stroke="#000" stroke-width="1.2" fill="none"/>
<path d="M298.97,348.37L303.37,352.77M298.97,352.77L303.37,348.37" stroke="#000" stroke-width="1.2" fill="none"/>
<path d="M304.23,336.25L308.63,340.65M304.23,340.65L308.63,336.25" stroke="#000" stroke-width="1.2" fill="none"/>
<path d="M309.03,327.99L313.43,332.39M309.03,332.39L313.43,327.99" stroke="#000" stroke-width="1.2" fill="none"/>
<path d="M313.38,322.44L317.78,326.84M313.38,326.84L317.78,322.44" stroke="#000" stroke-width="1.2" fill="none"/>
<path d="M317.72,318.32L322.12,322.72M317.72,322.72L322.12,318.32" stroke="#000" stroke-width="1.2" fill="none"/>
<path d="M321.84,314.48L326.24,318.88M321.84,318.88L326.24,314.48" stroke="#000" stroke-width="1.2" fill="none"/>
<path d="M325.73,310.85L330.13,315.25M325.73,315.25L330.13,310.85" stroke="#000" stroke-width="1.2" fill="none"/>
<path d="M329.39,307.67L333.79,312.07M329.39,312.07L333.79,307.67" stroke="#000" stroke-width="1.2" fill="none"/>
<path d="M333.05,304.67L337.45,309.07M333.05,309.07L337.45,304.67" stroke="#000" stroke-width="1.2" fill="none"/>
<path d="M336.48,302.31L340.88,306.71M336.48,306.71L340.88,302.31" stroke="#000" stroke-width="1.2" fill="none"/>
<path d="M339.91,300.26L344.31,304.66M339.91,304.66L344.31,300.26" stroke="#000" stroke-width="1.2" fill="none"/>
<path d="M343.11,298.65L347.51,303.05M343.11,303.05L347.51,298.65" stroke="#000" stroke-width="1.2" fill="none"/>
<path d="M346.31,297.44L350.71,301.84M346.31,301.84L350.71,297.44" stroke="#000" stroke-width="1.2" fill="none"/>
<path d="M349.52,296.52L353.92,300.92M349.52,300.92L353.92,296.52" stroke="#000" stroke-width="1.2" fill="none"/>
<path d="M352.72,295.66L357.12,300.06M352.72,300.06L357.12,295.66" stroke="#000" stroke-width="1.2" fill="none"/>
<path d="M356.15,294.79L360.55,299.19M356.15,299.19L360.55,294.79" stroke="#ea1c10" stroke-width="1.2" fill="none"/>
<path d="M361.18,293.15L365.58,297.55M361.18,297.55L365.58,293.15" stroke="#000" stroke-width="1.2" fill="none"/>
<rect x="281.50" y="263.30" width="160.10" height="160.10" fill="none" stroke="#111" stroke-width="1.05"/>
<text x="270.30" y="267.80" font-size="11" text-anchor="end" class="r">1.0</text>
<text x="270.30" y="347.85" font-size="11" text-anchor="end" class="r">0.5</text>
<text x="270.30" y="427.90" font-size="11" text-anchor="end" class="r">0.0</text>
<text x="281.50" y="441.40" font-size="11" text-anchor="middle" class="r">0</text>
<text x="304.37" y="441.40" font-size="11" text-anchor="middle" class="r">10</text>
<text x="327.24" y="441.40" font-size="11" text-anchor="middle" class="r">20</text>
<text x="350.11" y="441.40" font-size="11" text-anchor="middle" class="r">30</text>
<text x="372.99" y="441.40" font-size="11" text-anchor="middle" class="r">40</text>
<text x="395.86" y="441.40" font-size="11" text-anchor="middle" class="r">50</text>
<text x="418.73" y="441.40" font-size="11" text-anchor="middle" class="r">60</text>
<text x="441.60" y="441.40" font-size="11" text-anchor="middle" class="r">70</text>
<text x="361.55" y="461.40" font-size="11" text-anchor="middle" class="r">Noise [%]</text>
<text transform="translate(245.20,343.35) rotate(-90)" font-size="13" text-anchor="middle" class="r">Contrast recovery</text>
<text x="361.55" y="246.90" font-size="12" font-weight="bold" text-anchor="middle" fill="#000">8.9 mm</text>
<text x="234.80" y="248.20" font-size="14" font-weight="bold" fill="#000">e)</text>
<path d="M541.37,263.30V423.40M564.24,263.30V423.40M587.11,263.30V423.40M609.99,263.30V423.40M632.86,263.30V423.40M655.73,263.30V423.40M518.50,383.38H678.60M518.50,343.35H678.60M518.50,303.32H678.60" stroke="#dcdcdc" stroke-width="0.7" fill="none"/>
<path d="M541.37,423.40V421.00M564.24,423.40V421.00M587.11,423.40V421.00M609.99,423.40V421.00M632.86,423.40V421.00M655.73,423.40V421.00M518.50,343.35H520.70" stroke="#000" stroke-width="1.0" fill="none"/>
<path d="M558.98,367.37L593.52,352.83L623.94,349.94L651.15,348.96L675.40,348.47" stroke="#222" stroke-width="0.7" fill="none"/>
<circle cx="558.98" cy="367.37" r="2.3" fill="#fff" stroke="#000" stroke-width="0.8"/>
<circle cx="593.52" cy="352.83" r="2.3" fill="#fff" stroke="#ea1c10" stroke-width="0.8"/>
<circle cx="623.94" cy="349.94" r="2.3" fill="#fff" stroke="#000" stroke-width="0.8"/>
<circle cx="651.15" cy="348.96" r="2.3" fill="#fff" stroke="#000" stroke-width="0.8"/>
<circle cx="675.40" cy="348.47" r="2.3" fill="#fff" stroke="#000" stroke-width="0.8"/>
<path d="M561.96,355.52L603.81,327.56L647.04,320.78" stroke="#222" stroke-width="0.7" fill="none"/>
<polygon points="561.96,352.62 565.01,357.87 558.91,357.87" fill="#000"/>
<polygon points="603.81,324.66 606.86,329.91 600.76,329.91" fill="#ea1c10"/>
<polygon points="647.04,317.88 650.09,323.13 643.99,323.13" fill="#000"/>
<path d="M531.99,366.56L544.34,324.46L555.09,306.05L565.84,297.40L575.91,291.64L585.51,288.28L594.89,285.55L604.50,283.31L612.73,282.35L622.11,281.55" stroke="#222" stroke-width="0.7" fill="none"/>
<rect x="529.89" y="364.46" width="4.2" height="4.2" fill="#fff" stroke="#000" stroke-width="0.75"/>
<rect x="542.24" y="322.36" width="4.2" height="4.2" fill="#fff" stroke="#000" stroke-width="0.75"/>
<rect x="552.99" y="303.95" width="4.2" height="4.2" fill="#fff" stroke="#000" stroke-width="0.75"/>
<rect x="563.74" y="295.30" width="4.2" height="4.2" fill="#fff" stroke="#000" stroke-width="0.75"/>
<rect x="573.81" y="289.54" width="4.2" height="4.2" fill="#fff" stroke="#000" stroke-width="0.75"/>
<rect x="583.41" y="286.18" width="4.2" height="4.2" fill="#fff" stroke="#000" stroke-width="0.75"/>
<rect x="592.79" y="283.45" width="4.2" height="4.2" fill="#fff" stroke="#ea1c10" stroke-width="0.75"/>
<rect x="602.40" y="281.21" width="4.2" height="4.2" fill="#fff" stroke="#000" stroke-width="0.75"/>
<rect x="610.63" y="280.25" width="4.2" height="4.2" fill="#fff" stroke="#000" stroke-width="0.75"/>
<rect x="620.01" y="279.45" width="4.2" height="4.2" fill="#fff" stroke="#000" stroke-width="0.75"/>
<path d="M530.85,373.77L541.14,343.35L550.29,331.98L559.21,325.26L566.30,322.70L574.31,319.66L581.40,318.85L588.26,317.73L594.89,316.93L601.29,316.29" stroke="#222" stroke-width="0.7" fill="none"/>
<polygon points="530.85,371.27 533.55,375.67 528.15,375.67" fill="#fff" stroke="#000" stroke-width="0.75" stroke-linejoin="miter"/>
<polygon points="541.14,340.85 543.84,345.25 538.44,345.25" fill="#fff" stroke="#000" stroke-width="0.75" stroke-linejoin="miter"/>
<polygon points="550.29,329.48 552.99,333.88 547.59,333.88" fill="#fff" stroke="#000" stroke-width="0.75" stroke-linejoin="miter"/>
<polygon points="559.21,322.76 561.91,327.16 556.51,327.16" fill="#fff" stroke="#000" stroke-width="0.75" stroke-linejoin="miter"/>
<polygon points="566.30,320.20 569.00,324.60 563.60,324.60" fill="#fff" stroke="#000" stroke-width="0.75" stroke-linejoin="miter"/>
<polygon points="574.31,317.16 577.01,321.56 571.61,321.56" fill="#fff" stroke="#000" stroke-width="0.75" stroke-linejoin="miter"/>
<polygon points="581.40,316.35 584.10,320.75 578.70,320.75" fill="#fff" stroke="#000" stroke-width="0.75" stroke-linejoin="miter"/>
<polygon points="588.26,315.23 590.96,319.63 585.56,319.63" fill="#fff" stroke="#000" stroke-width="0.75" stroke-linejoin="miter"/>
<polygon points="594.89,314.43 597.59,318.83 592.19,318.83" fill="#fff" stroke="#ea1c10" stroke-width="0.75" stroke-linejoin="miter"/>
<polygon points="601.29,313.79 603.99,318.19 598.59,318.19" fill="#fff" stroke="#000" stroke-width="0.75" stroke-linejoin="miter"/>
<path d="M531.99,371.53L543.20,344.47L552.58,334.86L561.50,330.54L569.73,327.82L577.51,326.22L584.83,325.58L591.69,325.26L598.55,324.30L604.95,323.98" stroke="#222" stroke-width="0.7" fill="none"/>
<circle cx="531.99" cy="371.53" r="2.3" fill="#000"/>
<circle cx="543.20" cy="344.47" r="2.3" fill="#000"/>
<circle cx="552.58" cy="334.86" r="2.3" fill="#000"/>
<circle cx="561.50" cy="330.54" r="2.3" fill="#000"/>
<circle cx="569.73" cy="327.82" r="2.3" fill="#000"/>
<circle cx="577.51" cy="326.22" r="2.3" fill="#000"/>
<circle cx="584.83" cy="325.58" r="2.3" fill="#000"/>
<circle cx="591.69" cy="325.26" r="2.3" fill="#ea1c10"/>
<circle cx="598.55" cy="324.30" r="2.3" fill="#000"/>
<circle cx="604.95" cy="323.98" r="2.3" fill="#000"/>
<path d="M526.05,381.29L532.68,349.43L538.17,328.78L543.43,318.04L548.23,310.70L552.58,304.77L556.92,300.44L561.04,297.54L564.93,295.01L568.59,293.18L572.25,291.31L575.68,289.64L579.11,288.52L582.31,287.67L585.51,286.89L588.72,286.03L591.92,285.04L595.35,284.01L600.38,282.88" stroke="#222" stroke-width="0.7" fill="none"/>
<path d="M523.85,379.09L528.25,383.49M523.85,383.49L528.25,379.09" stroke="#000" stroke-width="1.2" fill="none"/>
<path d="M530.48,347.23L534.88,351.63M530.48,351.63L534.88,347.23" stroke="#000" stroke-width="1.2" fill="none"/>
<path d="M535.97,326.58L540.37,330.98M535.97,330.98L540.37,326.58" stroke="#000" stroke-width="1.2" fill="none"/>
<path d="M541.23,315.84L545.63,320.24M541.23,320.24L545.63,315.84" stroke="#000" stroke-width="1.2" fill="none"/>
<path d="M546.03,308.50L550.43,312.90M546.03,312.90L550.43,308.50" stroke="#000" stroke-width="1.2" fill="none"/>
<path d="M550.38,302.57L554.78,306.97M550.38,306.97L554.78,302.57" stroke="#000" stroke-width="1.2" fill="none"/>
<path d="M554.72,298.24L559.12,302.64M554.72,302.64L559.12,298.24" stroke="#000" stroke-width="1.2" fill="none"/>
<path d="M558.84,295.34L563.24,299.74M558.84,299.74L563.24,295.34" stroke="#000" stroke-width="1.2" fill="none"/>
<path d="M562.73,292.81L567.13,297.21M562.73,297.21L567.13,292.81" stroke="#000" stroke-width="1.2" fill="none"/>
<path d="M566.39,290.98L570.79,295.38M566.39,295.38L570.79,290.98" stroke="#000" stroke-width="1.2" fill="none"/>
<path d="M570.05,289.11L574.45,293.51M570.05,293.51L574.45,289.11" stroke="#000" stroke-width="1.2" fill="none"/>
<path d="M573.48,287.44L577.88,291.84M573.48,291.84L577.88,287.44" stroke="#000" stroke-width="1.2" fill="none"/>
<path d="M576.91,286.32L581.31,290.72M576.91,290.72L581.31,286.32" stroke="#000" stroke-width="1.2" fill="none"/>
<path d="M580.11,285.47L584.51,289.87M580.11,289.87L584.51,285.47" stroke="#000" stroke-width="1.2" fill="none"/>
<path d="M583.31,284.69L587.71,289.09M583.31,289.09L587.71,284.69" stroke="#000" stroke-width="1.2" fill="none"/>
<path d="M586.52,283.83L590.92,288.23M586.52,288.23L590.92,283.83" stroke="#000" stroke-width="1.2" fill="none"/>
<path d="M589.72,282.84L594.12,287.24M589.72,287.24L594.12,282.84" stroke="#000" stroke-width="1.2" fill="none"/>
<path d="M593.15,281.81L597.55,286.21M593.15,286.21L597.55,281.81" stroke="#ea1c10" stroke-width="1.2" fill="none"/>
<path d="M598.18,280.68L602.58,285.08M598.18,285.08L602.58,280.68" stroke="#000" stroke-width="1.2" fill="none"/>
<rect x="584.30" y="374.40" width="94.30" height="49.00" fill="#fff" stroke="#333" stroke-width="0.6"/>
<path d="M589.00,379.20H596.60" stroke="#1a1a1a" stroke-width="0.6"/>
<circle cx="592.80" cy="379.20" r="2.3" fill="#fff" stroke="#000" stroke-width="0.8"/>
<text x="600.00" y="381.70" font-size="7.3" class="r l">OSEM</text>
<path d="M589.00,387.25H596.60" stroke="#1a1a1a" stroke-width="0.6"/>
<polygon points="592.80,384.35 595.85,389.60 589.75,389.60" fill="#000"/>
<text x="600.00" y="389.75" font-size="7.3" class="r l">OSEM+PRC simplified</text>
<path d="M589.00,395.30H596.60" stroke="#1a1a1a" stroke-width="0.6"/>
<polygon points="592.80,392.80 595.50,397.20 590.10,397.20" fill="#fff" stroke="#000" stroke-width="0.75" stroke-linejoin="miter"/>
<text x="600.00" y="397.80" font-size="7.3" class="r l">OSEM+PRC</text>
<path d="M589.00,403.35H596.60" stroke="#1a1a1a" stroke-width="0.6"/>
<circle cx="592.80" cy="403.35" r="2.3" fill="#000"/>
<text x="600.00" y="405.85" font-size="7.3" class="r l">PSF</text>
<path d="M589.00,411.40H596.60" stroke="#1a1a1a" stroke-width="0.6"/>
<rect x="590.70" y="409.30" width="4.2" height="4.2" fill="#fff" stroke="#000" stroke-width="0.75"/>
<text x="600.00" y="413.90" font-size="7.3" class="r l">PSF+PRC simplified</text>
<path d="M589.00,419.45H596.60" stroke="#1a1a1a" stroke-width="0.6"/>
<path d="M590.60,417.25L595.00,421.65M590.60,421.65L595.00,417.25" stroke="#000" stroke-width="1.2" fill="none"/>
<text x="600.00" y="421.95" font-size="7.3" class="r l">PSF+PRC</text>
<rect x="518.50" y="263.30" width="160.10" height="160.10" fill="none" stroke="#111" stroke-width="1.05"/>
<text x="507.30" y="267.80" font-size="11" text-anchor="end" class="r">1.0</text>
<text x="507.30" y="347.85" font-size="11" text-anchor="end" class="r">0.5</text>
<text x="507.30" y="427.90" font-size="11" text-anchor="end" class="r">0.0</text>
<text x="518.50" y="441.40" font-size="11" text-anchor="middle" class="r">0</text>
<text x="541.37" y="441.40" font-size="11" text-anchor="middle" class="r">10</text>
<text x="564.24" y="441.40" font-size="11" text-anchor="middle" class="r">20</text>
<text x="587.11" y="441.40" font-size="11" text-anchor="middle" class="r">30</text>
<text x="609.99" y="441.40" font-size="11" text-anchor="middle" class="r">40</text>
<text x="632.86" y="441.40" font-size="11" text-anchor="middle" class="r">50</text>
<text x="655.73" y="441.40" font-size="11" text-anchor="middle" class="r">60</text>
<text x="678.60" y="441.40" font-size="11" text-anchor="middle" class="r">70</text>
<text x="598.55" y="461.40" font-size="11" text-anchor="middle" class="r">Noise [%]</text>
<text transform="translate(482.20,343.35) rotate(-90)" font-size="13" text-anchor="middle" class="r">Contrast recovery</text>
<text x="598.55" y="246.90" font-size="12" font-weight="bold" text-anchor="middle" fill="#000">9.7 mm</text>
<text x="476.20" y="248.20" font-size="14" font-weight="bold" fill="#000">f)</text>
</svg>
</body></html>
